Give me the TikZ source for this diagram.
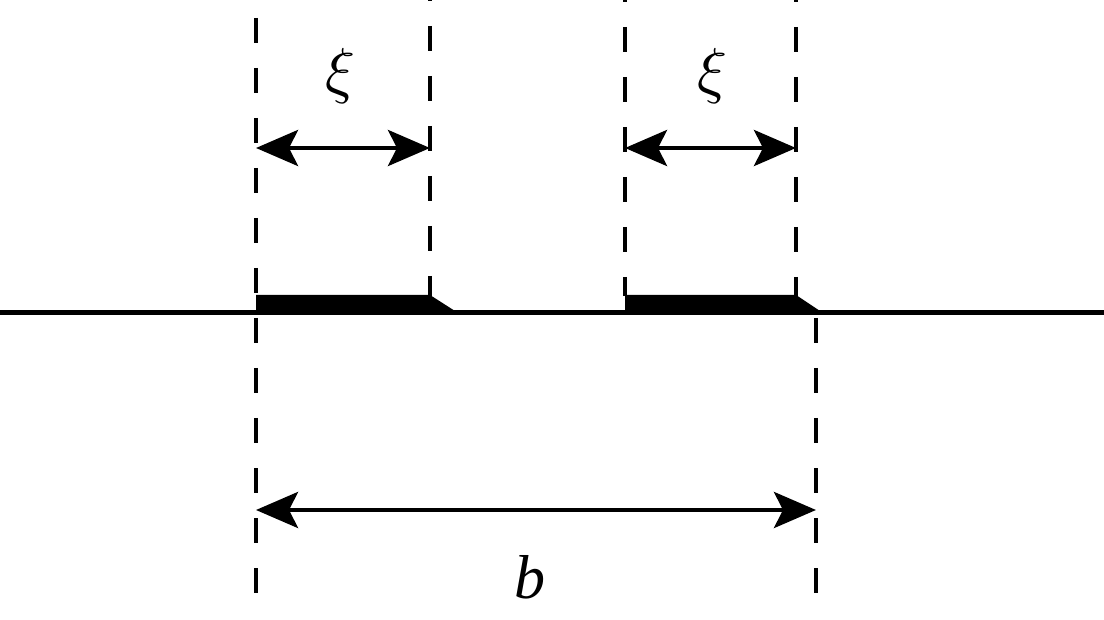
\documentclass[tikz,border=0pt]{standalone}
\usepackage{fontspec}
\usepackage{graphicx}
\setmainfont{Liberation Serif}
\usetikzlibrary{arrows.meta}
\tikzset{
  guide/.style={line width=4pt, dash pattern=on 25pt off 25pt},
  baseline/.style={line width=5pt},
  barshape/.style={fill=black, draw=none},
  dimarrow/.style={line width=4.5pt, {Stealth[length=42pt,width=36pt,inset=9pt]}-{Stealth[length=42pt,width=36pt,inset=9pt]}},
  lbl/.style={inner sep=0pt, font=\fontsize{62}{62}\selectfont\itshape}
}
\newcommand{\bigxi}{\scalebox{6.2}{\fontsize{10}{12}\selectfont$\xi$}}
\begin{document}
\begin{tikzpicture}[x=1pt,y=-1pt]
\useasboundingbox (0,0) rectangle (1104,620);
% coordinates
\coordinate (L0) at (0,312.5);
\coordinate (R0) at (1104,312.5);
\coordinate (g1t) at (256,18);
\coordinate (g1b) at (256,593);
\coordinate (g2t) at (430,-24);
\coordinate (g2b) at (430,296);
\coordinate (g3t) at (625,-23);
\coordinate (g3b) at (625,296);
\coordinate (g4t) at (796,-23);
\coordinate (g4b) at (796,296);
\coordinate (g5t) at (816,318);
\coordinate (g5b) at (816,593);
% bars
\fill[barshape] (256,295) -- (430,295) -- (455,311) -- (256,311) -- cycle;
\fill[barshape] (625,295) -- (796,295) -- (820,311) -- (625,311) -- cycle;
% base line
\draw[baseline] (L0) -- (R0);
% guides
\draw[guide] (g1t) -- (g1b);
\draw[guide] (g2t) -- (g2b);
\draw[guide] (g3t) -- (g3b);
\draw[guide] (g4t) -- (g4b);
\draw[guide] (g5t) -- (g5b);
% arrows
\coordinate (a1l) at (256,148);
\coordinate (a1r) at (430,148);
\coordinate (a2l) at (625,148);
\coordinate (a2r) at (796,148);
\coordinate (a3l) at (256,510);
\coordinate (a3r) at (816,510);
\draw[dimarrow] (a1l) -- (a1r);
\draw[dimarrow] (a2l) -- (a2r);
\draw[dimarrow] (a3l) -- (a3r);
% labels
\node[lbl] (xi1) at (340,76) {\bigxi};
\node[lbl] (xi2) at (712,76) {\bigxi};
\node[lbl] (bl) at (530,577) {b};
\end{tikzpicture}
\end{document}
